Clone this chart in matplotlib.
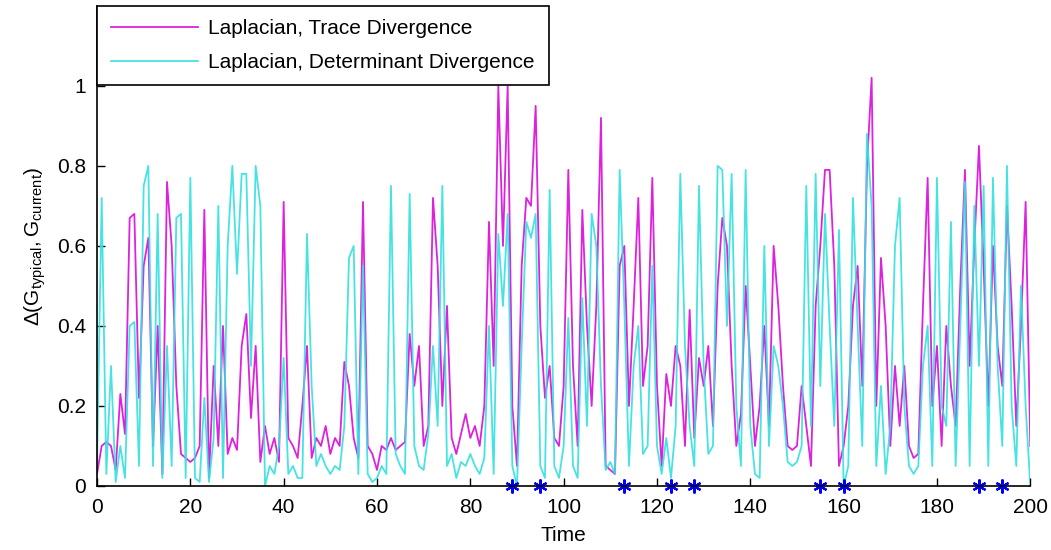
import numpy as np
import matplotlib
matplotlib.use('Agg')
import matplotlib.pyplot as plt

# time axis and the two divergence series
t = np.arange(0, 201)

trace_div = [
    0.03, 0.10, 0.11, 0.10, 0.04, 0.23, 0.13, 0.67, 0.68, 0.22,
    0.55, 0.62, 0.10, 0.40, 0.03, 0.76, 0.60, 0.25, 0.08, 0.07,
    0.06, 0.07, 0.10, 0.69, 0.02, 0.30, 0.10, 0.40, 0.08, 0.12,
    0.09, 0.35, 0.43, 0.17, 0.35, 0.06, 0.15, 0.08, 0.12, 0.06,
    0.71, 0.12, 0.10, 0.07, 0.20, 0.35, 0.07, 0.12, 0.10, 0.15,
    0.08, 0.12, 0.10, 0.31, 0.25, 0.12, 0.07, 0.71, 0.10, 0.08,
    0.04, 0.10, 0.09, 0.12, 0.09, 0.10, 0.11, 0.38, 0.25, 0.35,
    0.10, 0.15, 0.72, 0.55, 0.20, 0.45, 0.12, 0.08, 0.13, 0.18,
    0.12, 0.15, 0.10, 0.20, 0.66, 0.30, 1.00, 0.60, 1.00, 0.20,
    0.05, 0.55, 0.72, 0.70, 0.95, 0.40, 0.22, 0.30, 0.12, 0.10,
    0.25, 0.79, 0.30, 0.10, 0.69, 0.40, 0.20, 0.45, 0.92, 0.05,
    0.04, 0.03, 0.55, 0.60, 0.20, 0.45, 0.72, 0.25, 0.35, 0.77,
    0.25, 0.05, 0.28, 0.20, 0.35, 0.30, 0.10, 0.44, 0.12, 0.32,
    0.25, 0.35, 0.15, 0.50, 0.67, 0.60, 0.30, 0.10, 0.18, 0.50,
    0.30, 0.10, 0.20, 0.40, 0.15, 0.60, 0.45, 0.25, 0.10, 0.09,
    0.10, 0.25, 0.15, 0.05, 0.45, 0.60, 0.79, 0.79, 0.55, 0.05,
    0.10, 0.20, 0.45, 0.55, 0.25, 0.80, 1.02, 0.20, 0.57, 0.40,
    0.10, 0.30, 0.15, 0.30, 0.10, 0.07, 0.08, 0.45, 0.77, 0.20,
    0.35, 0.10, 0.40, 0.25, 0.15, 0.50, 0.79, 0.30, 0.60, 0.85,
    0.55, 0.20, 0.60, 0.35, 0.25, 0.70, 0.45, 0.15, 0.40, 0.71,
    0.10,
]

det_div = [
    0.05, 0.72, 0.03, 0.30, 0.01, 0.10, 0.02, 0.40, 0.41, 0.05,
    0.75, 0.80, 0.05, 0.68, 0.02, 0.35, 0.05, 0.67, 0.68, 0.02,
    0.77, 0.02, 0.01, 0.22, 0.01, 0.12, 0.70, 0.02, 0.60, 0.80,
    0.53, 0.78, 0.78, 0.30, 0.80, 0.70, 0.00, 0.05, 0.03, 0.10,
    0.32, 0.03, 0.05, 0.02, 0.02, 0.63, 0.25, 0.05, 0.08, 0.05,
    0.03, 0.05, 0.04, 0.15, 0.57, 0.60, 0.03, 0.55, 0.03, 0.01,
    0.02, 0.05, 0.03, 0.75, 0.08, 0.05, 0.03, 0.73, 0.10, 0.05,
    0.04, 0.13, 0.35, 0.15, 0.75, 0.05, 0.08, 0.02, 0.06, 0.05,
    0.08, 0.05, 0.03, 0.07, 0.40, 0.03, 0.63, 0.45, 0.68, 0.05,
    0.00, 0.35, 0.66, 0.62, 0.68, 0.05, 0.02, 0.74, 0.05, 0.02,
    0.10, 0.42, 0.05, 0.02, 0.47, 0.15, 0.68, 0.60, 0.25, 0.04,
    0.06, 0.03, 0.79, 0.45, 0.05, 0.30, 0.40, 0.08, 0.10, 0.55,
    0.10, 0.03, 0.12, 0.02, 0.15, 0.78, 0.35, 0.15, 0.05, 0.75,
    0.30, 0.08, 0.10, 0.80, 0.79, 0.40, 0.78, 0.20, 0.05, 0.79,
    0.15, 0.03, 0.02, 0.60, 0.10, 0.35, 0.30, 0.20, 0.06, 0.05,
    0.06, 0.10, 0.75, 0.15, 0.78, 0.25, 0.68, 0.40, 0.15, 0.64,
    0.00, 0.05, 0.72, 0.40, 0.10, 0.88, 0.70, 0.05, 0.25, 0.03,
    0.15, 0.60, 0.72, 0.20, 0.05, 0.03, 0.05, 0.30, 0.40, 0.05,
    0.77, 0.20, 0.15, 0.66, 0.05, 0.40, 0.76, 0.05, 0.70, 0.30,
    0.75, 0.05, 0.77, 0.30, 0.10, 0.80, 0.20, 0.05, 0.50, 0.20,
    0.00,
]

# event markers along the time axis
events = [89, 95, 113, 123, 128, 155, 160, 189, 194]

plt.rcParams['font.family'] = ['Liberation Sans', 'DejaVu Sans']
plt.rcParams['mathtext.default'] = 'regular'

fig = plt.figure(figsize=(10.51, 5.5), dpi=100)
ax = fig.add_axes([0.0923, 0.1164, 0.888, 0.873])

ax.plot(t, trace_div, color='#dd22dd', lw=1.3, label='Laplacian, Trace Divergence')
ax.plot(t, det_div, color='#33e0e0', lw=1.3, alpha=0.9, label='Laplacian, Determinant Divergence')
# MATLAB style asterisk markers
ax.plot(events, np.zeros(len(events)), ls='none', marker=(6, 2, 0), color='#0000ff',
        ms=10, mew=1.6, clip_on=False)

ax.set_xlim(0, 200)
ax.set_ylim(0, 1.2)
ax.set_xticks(np.arange(0, 201, 20))
ax.set_yticks([0, 0.2, 0.4, 0.6, 0.8, 1])
ax.set_yticklabels(['0', '0.2', '0.4', '0.6', '0.8', '1'])

for s in ['top', 'right']:
    ax.spines[s].set_visible(False)
for s in ['left', 'bottom']:
    ax.spines[s].set_linewidth(1.2)

ax.tick_params(direction='in', length=6, width=1, top=False, right=False,
               labelsize=15)
ax.tick_params(axis='x', pad=9)
ax.tick_params(axis='y', pad=8)

ax.set_xlabel('Time', fontsize=15, labelpad=6)
ax.set_ylabel(r'$\Delta(G_{typical}, G_{current})$', fontsize=15, labelpad=6)

leg = ax.legend(loc='upper left', bbox_to_anchor=(0, 1.0), fontsize=15, fancybox=False,
                framealpha=1, edgecolor='black', handlelength=4.2, handletextpad=0.5,
                borderaxespad=0, borderpad=0.65, labelspacing=0.7)
leg.get_frame().set_linewidth(1.2)

fig.savefig('out.png', dpi=100)
